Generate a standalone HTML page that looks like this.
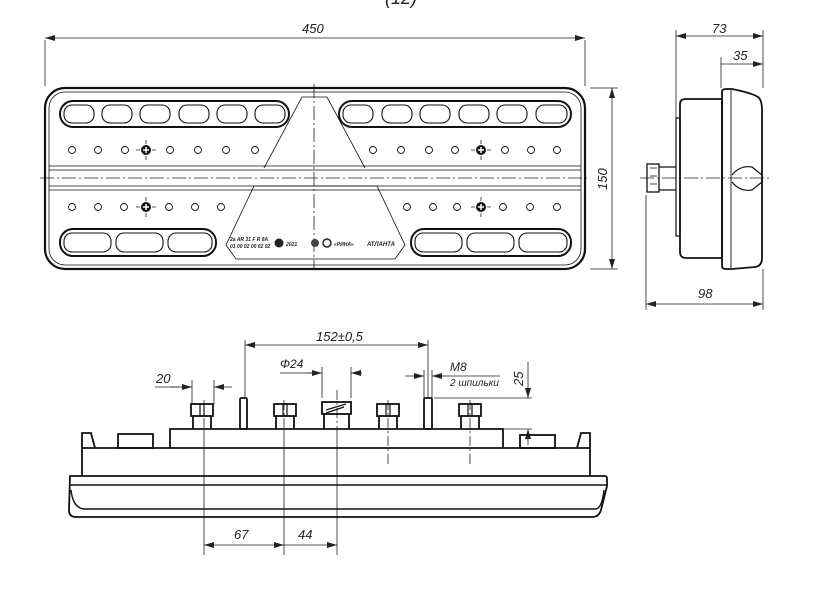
<!DOCTYPE html>
<html><head><meta charset="utf-8"><style>
html,body{margin:0;padding:0;background:#fff}
svg{display:block}
text{font-family:"Liberation Sans","DejaVu Sans",sans-serif;font-style:italic;fill:#222}
</style></head><body>
<svg width="816" height="591" viewBox="0 0 816 591" xmlns="http://www.w3.org/2000/svg">
<defs>
<marker id="a" viewBox="0 0 10 6" refX="10" refY="3" markerWidth="10" markerHeight="6" orient="auto-start-reverse" markerUnits="userSpaceOnUse"><path d="M0,0L10,3L0,6z" fill="#222"/></marker>
<g id="scr"><circle r="5" fill="#111"/><path d="M-3,0H3M0,-3V3" stroke="#fff" stroke-width="1.5"/><path d="M-10,0H-6M6,0H10M0,-10V-6M0,6V10" stroke="#222" stroke-width="0.8"/></g>
<g id="nut" fill="none" stroke="#111" stroke-width="1.8"><rect x="-11" y="0" width="22" height="12"/><path d="M-9,12V25M9,12V25"/><rect x="-2" y="0" width="4" height="12" stroke-width="1.2"/></g>
</defs>
<text x="385" y="4" font-size="18" font-style="normal">(12)</text>

<!-- FRONT VIEW -->
<g fill="none" stroke="#222" stroke-width="0.8">
<path d="M45,40V86M585,40V86"/>
<line x1="45" y1="38" x2="585" y2="38" marker-start="url(#a)" marker-end="url(#a)"/>
<path d="M590,88H618M590,269H618"/>
<line x1="612" y1="88" x2="612" y2="269" marker-start="url(#a)" marker-end="url(#a)"/>
<path d="M314,84V270" stroke-dasharray="14,3,2,3"/>
<path d="M40,178H590" stroke-dasharray="14,3,2,3"/>
</g>
<text x="302" y="33" font-size="13">450</text>
<text x="0" y="0" font-size="13" transform="translate(607,190) rotate(-90)">150</text>
<g fill="none" stroke="#111">
<rect x="45" y="88" width="540" height="181" rx="20" stroke-width="2.2"/>
<rect x="49" y="92" width="532" height="173" rx="16" stroke-width="0.8"/>
<path d="M49,166H581M49,170H581M49,186H581M49,190H581" stroke-width="0.8"/>
<rect x="60" y="101" width="229" height="26" rx="13" stroke-width="2"/>
<rect x="339" y="101" width="232" height="26" rx="13" stroke-width="2"/>
<rect x="60" y="229" width="156" height="27" rx="13" stroke-width="2"/>
<rect x="411" y="229" width="160" height="27" rx="13" stroke-width="2"/>
<g stroke-width="1.1">
<rect x="64" y="105" width="30" height="18" rx="8"/><rect x="102" y="105" width="30" height="18" rx="8"/><rect x="140" y="105" width="30" height="18" rx="8"/><rect x="179" y="105" width="30" height="18" rx="8"/><rect x="217" y="105" width="30" height="18" rx="8"/><rect x="255" y="105" width="30" height="18" rx="8"/>
<rect x="343" y="105" width="30" height="18" rx="8"/><rect x="382" y="105" width="30" height="18" rx="8"/><rect x="420" y="105" width="30" height="18" rx="8"/><rect x="459" y="105" width="30" height="18" rx="8"/><rect x="497" y="105" width="30" height="18" rx="8"/><rect x="536" y="105" width="31" height="18" rx="8"/>
<rect x="64" y="233" width="47" height="19" rx="8"/><rect x="116" y="233" width="47" height="19" rx="8"/><rect x="168" y="233" width="44" height="19" rx="8"/>
<rect x="415" y="233" width="47" height="19" rx="8"/><rect x="467" y="233" width="47" height="19" rx="8"/><rect x="519" y="233" width="48" height="19" rx="8"/>
</g>
<g stroke-width="0.8">
<path d="M264,168L302,97H327L365,168"/>
<path d="M254,186H377L405,245L395,259H236L226,245Z"/>
</g>
<g stroke-width="0.9">
<circle cx="72" cy="150" r="3.5"/><circle cx="98" cy="150" r="3.5"/><circle cx="125" cy="150" r="3.5"/><circle cx="170" cy="150" r="3.5"/><circle cx="198" cy="150" r="3.5"/><circle cx="226" cy="150" r="3.5"/><circle cx="255" cy="150" r="3.5"/>
<circle cx="373" cy="150" r="3.5"/><circle cx="401" cy="150" r="3.5"/><circle cx="429" cy="150" r="3.5"/><circle cx="455" cy="150" r="3.5"/><circle cx="505" cy="150" r="3.5"/><circle cx="531" cy="150" r="3.5"/><circle cx="557" cy="150" r="3.5"/>
<circle cx="72" cy="207" r="3.5"/><circle cx="98" cy="207" r="3.5"/><circle cx="124" cy="207" r="3.5"/><circle cx="169" cy="207" r="3.5"/><circle cx="195" cy="207" r="3.5"/><circle cx="221" cy="207" r="3.5"/>
<circle cx="407" cy="207" r="3.5"/><circle cx="433" cy="207" r="3.5"/><circle cx="457" cy="207" r="3.5"/><circle cx="503" cy="207" r="3.5"/><circle cx="530" cy="207" r="3.5"/><circle cx="557" cy="207" r="3.5"/>
</g>
</g>
<use href="#scr" x="146" y="150"/><use href="#scr" x="481" y="150"/><use href="#scr" x="146" y="207"/><use href="#scr" x="481" y="207"/>
<g font-style="normal" font-size="5" font-weight="bold">
<text x="230" y="241">2a AR 31 F  R 8A</text><text x="230" y="248">01 00 02 00 02 02</text>
<text x="286" y="246">2021</text><text x="334" y="246">«РИНА»</text>
<text x="367" y="246" font-size="6">АТЛАНТА</text>
</g>
<circle cx="279" cy="243" r="4.5" fill="#222"/><circle cx="315" cy="243" r="4" fill="#444"/><circle cx="327" cy="243" r="4" fill="none" stroke="#222" stroke-width="1.5"/>

<!-- SIDE VIEW -->
<g fill="none" stroke="#222" stroke-width="0.8">
<path d="M676,30V165M763,30V88M721,57V88M646,195V310M763,269V310"/>
<line x1="676" y1="36" x2="763" y2="36" marker-start="url(#a)" marker-end="url(#a)"/>
<line x1="721" y1="64" x2="763" y2="64" marker-end="url(#a)"/>
<line x1="646" y1="304" x2="763" y2="304" marker-start="url(#a)" marker-end="url(#a)"/>
<path d="M640,178H772" stroke-dasharray="14,3,2,3"/>
</g>
<text x="712" y="33" font-size="13">73</text>
<text x="733" y="60" font-size="13">35</text>
<text x="698" y="298" font-size="13">98</text>
<g fill="none" stroke="#111" stroke-width="1.8">
<rect x="676" y="118" width="4" height="118" stroke-width="1.2"/>
<path d="M680,104Q680,99 686,99H722V258H686Q680,258 680,252Z"/>
<path d="M722,92Q722,89 726,89H732Q752,93 758,97Q762,100 762,110V258Q762,266 755,267L732,269H726Q722,269 722,266Z"/>
<path d="M731,90V268" stroke-width="0.9"/>
<path d="M732,175Q740,165 752,167L762,175V182L752,190Q740,192 732,182" stroke-width="1.2"/>
<rect x="647" y="164" width="12" height="28" stroke-width="1.3"/>
<path d="M659,167H676M659,190H676" stroke-width="1.3"/>
<path d="M650,168H657M650,176H657M650,184H657" stroke-width="0.8"/>
</g>

<!-- BOTTOM VIEW -->
<g fill="none" stroke="#222" stroke-width="0.8">
<path d="M245,340V398M428,340V398M192,380V404M214,380V404M322,367V398M351,367V398M424,370V398M432,370V398M434,398H532M503,429H532M204,430V555M284,430V555M337,430V555" />
<path d="M388,400V465M470,400V465M204,400V430M284,400V430M337,390V430" stroke-dasharray="10,3,2,3"/>
<line x1="245" y1="345" x2="428" y2="345" marker-start="url(#a)" marker-end="url(#a)"/>
<path d="M155,387H180"/><line x1="170" y1="387" x2="192" y2="387" marker-end="url(#a)"/><line x1="232" y1="387" x2="214" y2="387" marker-end="url(#a)"/>
<path d="M280,373H322"/><line x1="305" y1="373" x2="322" y2="373" marker-end="url(#a)"/><line x1="362" y1="373" x2="351" y2="373" marker-end="url(#a)"/>
<line x1="405" y1="376" x2="424" y2="376" marker-end="url(#a)"/><line x1="445" y1="376" x2="432" y2="376" marker-end="url(#a)"/><path d="M445,376H500"/>
<line x1="528" y1="362" x2="528" y2="398" marker-end="url(#a)"/><line x1="528" y1="445" x2="528" y2="429" marker-end="url(#a)"/>
<line x1="204" y1="545" x2="284" y2="545" marker-start="url(#a)" marker-end="url(#a)"/>
<line x1="284" y1="545" x2="337" y2="545" marker-end="url(#a)"/>
</g>
<text x="316" y="341" font-size="13">152±0,5</text>
<text x="156" y="383" font-size="13">20</text>
<text x="280" y="368" font-size="12">Φ24</text>
<text x="450" y="371" font-size="12">M8</text>
<text x="450" y="386" font-size="10">2 шпильки</text>
<text x="0" y="0" font-size="13" transform="translate(523,386) rotate(-90)">25</text>
<text x="234" y="539" font-size="13">67</text>
<text x="298" y="539" font-size="13">44</text>
<g fill="none" stroke="#111" stroke-width="1.8">
<path d="M70,476H605Q607,476 607,479V486L601,510Q599,517 592,517H76Q69,517 69,510Z"/>
<path d="M69,485H607M71,490Q73,508 84,509H596Q602,508 604,490" stroke-width="1.4"/>
<path d="M82,476V448H590V476"/>
<path d="M82,448V433H91L95,448M590,448V433H581L577,448"/>
<rect x="118" y="434" width="35" height="14"/>
<rect x="520" y="435" width="35" height="13"/>
<path d="M170,448V429H503V448"/>
<rect x="240" y="398" width="7" height="31" rx="1.5"/>
<rect x="424" y="398" width="8" height="31" rx="1.5"/>
<rect x="322" y="402" width="29" height="12"/><path d="M324,414V429M349,414V429"/>
<path d="M326,410L346,404M326,413L344,407" stroke-width="1.2"/>
</g>
<use href="#nut" x="202" y="404"/><use href="#nut" x="285" y="404"/><use href="#nut" x="388" y="404"/><use href="#nut" x="470" y="404"/>
</svg>
</body></html>
